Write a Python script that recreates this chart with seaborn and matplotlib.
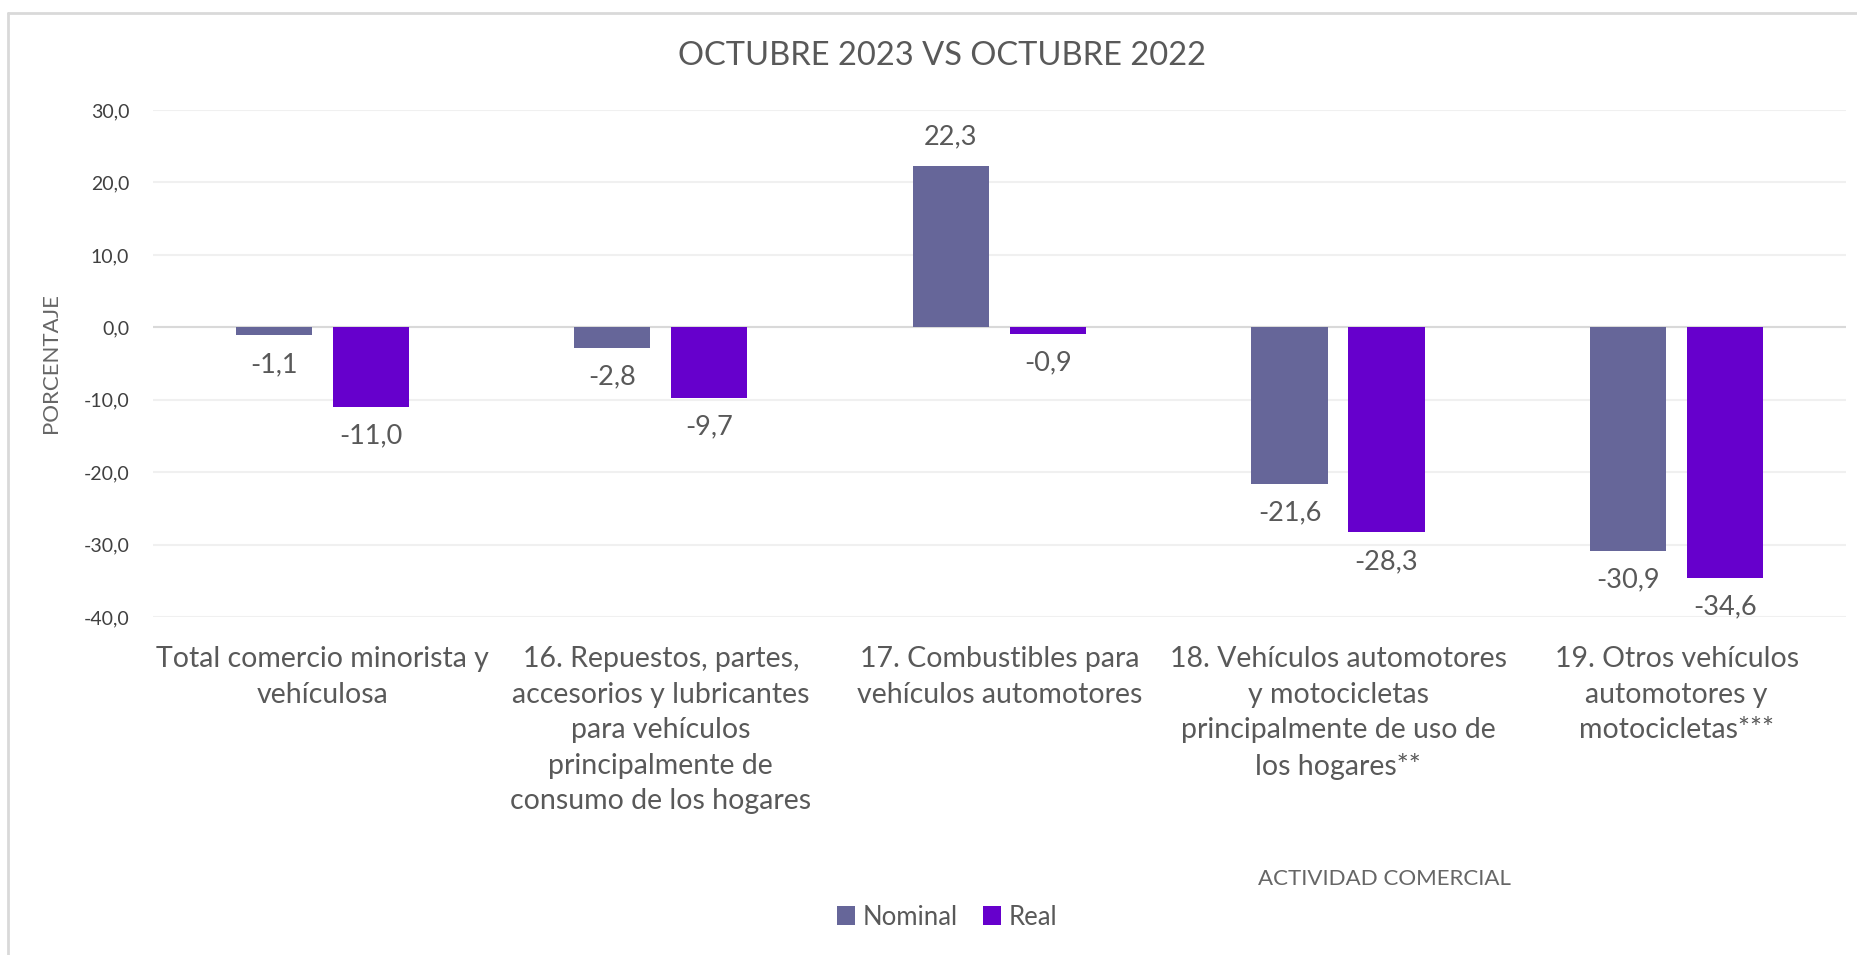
import pandas as pd
import seaborn as sns
import matplotlib.pyplot as plt
from matplotlib.lines import Line2D

categorias = [
    "Total comercio minorista y\nvehículosa",
    "16. Repuestos, partes,\naccesorios y lubricantes\npara vehículos\nprincipalmente de\nconsumo de los hogares",
    "17. Combustibles para\nvehículos automotores",
    "18. Vehículos automotores\ny motocicletas\nprincipalmente de uso de\nlos hogares**",
    "19. Otros vehículos\nautomotores y\nmotocicletas***",
]
nominal = [-1.1, -2.8, 22.3, -21.6, -30.9]
real = [-11.0, -9.7, -0.9, -28.3, -34.6]
series = ["Nominal", "Real"]
colores = ["#666699", "#6600CC"]
yticks = [30, 20, 10, 0, -10, -20, -30, -40]

df = pd.DataFrame({
    "categoria": categorias * 2,
    "serie": ["Nominal"] * len(categorias) + ["Real"] * len(categorias),
    "valor": nominal + real,
})

sns.set_theme(style="white")
plt.rcParams['font.family'] = ['Lato', 'DejaVu Sans']

fig = plt.figure(figsize=(18.58, 9.55), dpi=100)
ax = fig.add_axes([0.0823, 0.3539, 0.9112, 0.5309])

sns.barplot(data=df, x="categoria", y="valor", hue="serie", hue_order=series,
            palette=colores, width=0.573, gap=0.216, saturation=1, ax=ax,
            edgecolor="none", zorder=3)

ax.set_ylim(-40, 30)
ax.set_yticks(yticks)
ax.set_yticklabels([f"{v:.1f}".replace(".", ",") for v in yticks],
                   fontsize=14, color="#404040")
ax.tick_params(axis="y", length=0, pad=17)
ax.tick_params(axis="x", length=0, pad=21)
ax.set_xticks(range(len(categorias)))
ax.set_xticklabels(categorias, fontsize=20.5, color="#595959",
                   linespacing=1.45, va="top")
ax.grid(axis="y", color="#f0f0f0", linewidth=1.5, zorder=0)
ax.axhline(0, color="#d9d9d9", linewidth=1.5, zorder=1)
for s in ax.spines.values():
    s.set_visible(False)

for cont in ax.containers:
    vals = cont.datavalues
    ax.bar_label(cont, labels=[f"{v:.1f}".replace(".", ",") for v in vals],
                 padding=12, fontsize=19.5, color="#595959")

ax.set_xlabel("")
ax.set_ylabel("PORCENTAJE", fontsize=16, color="#666666", labelpad=16)

fig.text(942 / 1858, 1 - 56 / 955, "OCTUBRE 2023 VS OCTUBRE 2022",
         ha="center", va="center", fontsize=23.5, color="#595959")
fig.text(1384 / 1858, 1 - 879 / 955, "ACTIVIDAD COMERCIAL",
         ha="center", va="center", fontsize=16, color="#666666")

ax.legend(loc="center", bbox_to_anchor=(947 / 1858, 1 - 917 / 955),
          bbox_transform=fig.transFigure, ncol=2, frameon=False,
          handlelength=0.7, handleheight=0.75, handletextpad=0.3,
          columnspacing=1.0, prop={"size": 18.5},
          labelcolor="#595959")

# borde del gráfico
fig.add_artist(Line2D([8 / 1858, 1], [1 - 13 / 955, 1 - 13 / 955],
                      transform=fig.transFigure, color="#d9d9d9", linewidth=2))
fig.add_artist(Line2D([8 / 1858, 8 / 1858], [0, 1 - 13 / 955],
                      transform=fig.transFigure, color="#d9d9d9", linewidth=2))

fig.savefig("out.png", dpi=100)
